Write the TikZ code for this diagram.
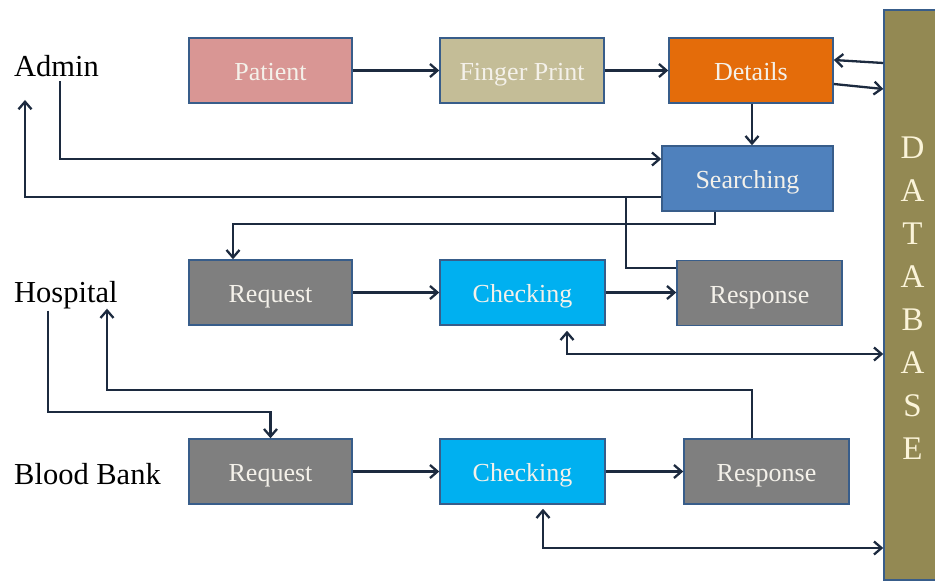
\documentclass[tikz,border=0pt]{standalone}
\usepackage{fontspec}
\setmainfont{Liberation Serif}
\usetikzlibrary{arrows.meta}
\definecolor{boxline}{HTML}{385D8A}
\definecolor{boxtext}{HTML}{F4F1EA}
\definecolor{patientc}{HTML}{D99694}
\definecolor{fingerc}{HTML}{C4BD97}
\definecolor{detailc}{HTML}{E46C0A}
\definecolor{searchc}{HTML}{4F81BD}
\definecolor{grayc}{HTML}{7F7F7F}
\definecolor{checkc}{HTML}{00B0F0}
\definecolor{dbc}{HTML}{938953}
\definecolor{dbtext}{HTML}{FBF4D9}
\definecolor{arrowc}{HTML}{1C2A3F}
\begin{document}
\begin{tikzpicture}[x=1pt,y=-1pt,
  box/.style={draw=boxline, line width=1.5pt, minimum height=65pt, inner sep=0pt,
    text height=20pt, text depth=0pt,
    text=boxtext, font=\fontsize{26}{30}\selectfont},
  actor/.style={inner sep=0pt, anchor=base west, text=black, font=\fontsize{30.5}{36}\selectfont},
  dbletter/.style={inner sep=0pt, anchor=base, text=dbtext, font=\fontsize{33}{36}\selectfont},
  link/.style={draw=arrowc, line width=2.3pt},
  arr/.style={link, -{Straight Barb[length=7.5pt,width=13pt]}},
  arrboth/.style={link, {Straight Barb[length=7.5pt,width=13pt]}-{Straight Barb[length=7.5pt,width=13pt]}}]
\useasboundingbox (0,0) rectangle (935,583);

% actors
\node[actor] (admin) at (14,77) {Admin};
\node[actor] (hosp)  at (14,302) {Hospital};
\node[actor] (bank)  at (14,484) {Blood Bank};

% admin row
\node[box, fill=patientc, minimum width=163pt] (pat) at (270.5,70.5) {Patient};
\node[box, fill=fingerc,  minimum width=164pt] (fp)  at (522,70.5)   {Finger Print};
\node[box, fill=detailc,  minimum width=164pt] (det) at (751,70.5)   {Details};
\node[box, fill=searchc,  minimum width=171pt] (srch) at (747.5,178.5) {Searching};

% hospital row
\node[box, fill=grayc,  minimum width=163pt] (hreq) at (270.5,292.5) {Request};
\node[box, fill=checkc, minimum width=165pt] (hchk) at (522.5,292.5) {Checking};
\node[box, fill=grayc,  minimum width=165pt] (hres) at (759.5,293)   {Response};

% blood bank row
\node[box, fill=grayc,  minimum width=163pt] (breq) at (270.5,471.5) {Request};
\node[box, fill=checkc, minimum width=165pt] (bchk) at (522.5,471.5) {Checking};
\node[box, fill=grayc,  minimum width=165pt] (bres) at (766.5,471.5) {Response};

% database column
\node[draw=boxline, line width=1.5pt, fill=dbc, inner sep=0pt,
      minimum width=56pt, minimum height=570pt] (db) at (912,295) {};
\foreach \l [count=\i from 0] in {D,A,T,A,B,A,S,E}
  \node[dbletter] (dbl\i) at (912.5,159+42.86*\i) {\l};

% admin flow
\draw[arr] (pat.east) -- (fp.west);
\draw[arr] (fp.east) -- (det.west);
\draw[arr] (db.west |- 0,63) -- (det.east |- 0,60);
\draw[arr] (det.east |- 0,84) -- (db.west |- 0,89);
\draw[arr] (det.south -| 752,0) -- (srch.north -| 752,0);
\draw[arr] (admin.south -| 60,0) ++(0,4) |- (srch.west |- 0,159);
\coordinate (adminin) at (25,100);
\draw[arr] (srch.west |- 0,197) -| (adminin);

% searching to hospital
\draw[arr] (srch.south -| 715,0) -- (715,224) -| (hreq.north -| 233,0);
\draw[link] (hres.west |- 0,268) -| (626,197);

% hospital flow
\draw[arr] (hreq.east) -- (hchk.west);
\draw[arr] (hchk.east) -- (hres.west |- hchk.east);
\draw[arrboth, shorten <=5pt] (hchk.south -| 567,0) |- (db.west |- 0,354);

% hospital to blood bank and back
\draw[arr] (hosp.south -| 48,0) ++(0,2) |- (breq.north |- 0,412) -- (breq.north);
\draw[arr] (bres.north -| 752,0) |- (107,390) -- (hosp.south -| 107,0);

% blood bank flow
\draw[arr] (breq.east) -- (bchk.west);
\draw[arr] (bchk.east) -- (bres.west);
\draw[arrboth, shorten <=4pt] (bchk.south -| 543,0) |- (db.west |- 0,548);
\end{tikzpicture}
\end{document}
